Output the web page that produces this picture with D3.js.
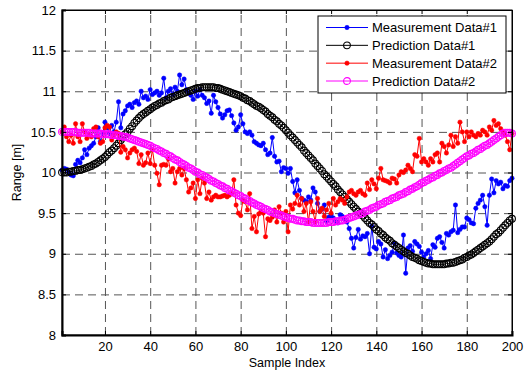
<!DOCTYPE html>
<html>
<head>
<meta charset="utf-8">
<script src="https://cdn.jsdelivr.net/npm/d3@7"></script>
<style>
  body { margin: 0; background: #fff; }
  text { font-family: "Liberation Sans", Arial, sans-serif; fill: #000; }
  .grid line { stroke: #555; stroke-dasharray: 8,5; }
  .grid .domain { display: none; }
</style>
</head>
<body>
<svg id="chart"></svg>
<script>
const W = 528, H = 373;
const margin = {top: 10, right: 16, bottom: 38, left: 62};
const width = W - margin.left - margin.right;
const height = H - margin.top - margin.bottom;

const xTicks = [20, 40, 60, 80, 100, 120, 140, 160, 180, 200];
const yTicks = [8, 8.5, 9, 9.5, 10, 10.5, 11, 11.5, 12];
const seriesNames = ["Measurement Data#1", "Prediction Data#1", "Measurement Data#2", "Prediction Data#2"];

// measurement #1 (blue), index 1..200
const meas1 = [
  10.03, 10.05, 10.04, 10.00, 9.97, 9.96, 10.10, 10.15, 10.12, 10.18,
  10.28, 10.22, 10.30, 10.33, 10.36, 10.44, 10.55, 10.38, 10.48, 10.62,
  10.55, 10.48, 10.58, 10.50, 10.62, 10.87, 10.55, 10.72, 10.76, 10.82,
  10.84, 10.80, 10.86, 10.88, 10.84, 11.00, 10.92, 10.94, 10.90, 11.02,
  10.96, 10.98, 11.00, 10.95, 10.98, 11.16, 10.92, 11.00, 11.03, 10.96,
  11.05, 11.00, 11.20, 11.08, 11.15, 11.02, 10.98, 10.95, 10.90, 11.00,
  10.94, 11.02, 10.95, 10.92, 10.85, 10.88, 10.73, 10.95, 10.87, 10.80,
  10.72, 10.67, 10.71, 10.76, 10.77, 10.70, 10.61, 10.52, 10.56, 10.71,
  10.60, 10.50, 10.48, 10.50, 10.46, 10.38, 10.36, 10.34, 10.33, 10.36,
  10.28, 10.22, 10.24, 10.43, 10.20, 10.13, 10.14, 10.01, 10.06, 10.05,
  9.99, 10.05, 9.89, 9.75, 9.91, 9.78, 9.68, 9.66, 9.64, 9.70,
  9.66, 9.81, 9.76, 9.62, 9.52, 9.55, 9.60, 9.40, 9.45, 9.48,
  9.44, 9.40, 9.38, 9.48, 9.46, 9.42, 9.39, 9.31, 9.19, 9.07,
  9.20, 9.30, 9.18, 9.22, 9.21, 9.25, 9.00, 9.34, 9.08, 9.06,
  9.15, 9.12, 8.96, 9.05, 8.94, 8.98, 9.02, 9.13, 9.01, 8.98,
  8.96, 9.23, 8.76, 9.07, 9.10, 9.03, 9.15, 9.12, 9.09, 9.02,
  8.96, 9.00, 9.04, 8.94, 9.11, 9.08, 9.19, 9.21, 9.14, 9.07,
  9.25, 9.23, 9.27, 9.29, 9.60, 9.26, 9.30, 9.33, 9.33, 9.44,
  9.42, 9.38, 9.37, 9.56, 9.62, 9.66, 9.72, 9.58, 9.35, 9.72,
  9.92, 9.75, 9.90, 9.86, 9.88, 9.80, 9.84, 9.83, 9.90, 9.93
];

// prediction #1 (black circles)
const pred1 = [
  10.00, 10.00, 10.00, 10.01, 10.01, 10.02, 10.02, 10.03, 10.03, 10.04,
  10.05, 10.06, 10.07, 10.08, 10.10, 10.11, 10.13, 10.15, 10.17, 10.19,
  10.22, 10.25, 10.27, 10.30, 10.33, 10.36, 10.40, 10.43, 10.47, 10.50,
  10.54, 10.57, 10.61, 10.64, 10.67, 10.70, 10.72, 10.74, 10.76, 10.78,
  10.80, 10.82, 10.83, 10.85, 10.86, 10.88, 10.89, 10.90, 10.92, 10.93,
  10.94, 10.95, 10.96, 10.97, 10.98, 10.99, 11.00, 11.01, 11.02, 11.03,
  11.04, 11.04, 11.05, 11.05, 11.05, 11.05, 11.05, 11.05, 11.04, 11.04,
  11.03, 11.02, 11.01, 11.00, 10.99, 10.98, 10.97, 10.96, 10.95, 10.94,
  10.92, 10.91, 10.89, 10.88, 10.86, 10.84, 10.82, 10.81, 10.79, 10.77,
  10.75, 10.72, 10.70, 10.68, 10.65, 10.63, 10.60, 10.58, 10.55, 10.52,
  10.49, 10.46, 10.43, 10.40, 10.37, 10.34, 10.31, 10.27, 10.24, 10.21,
  10.18, 10.15, 10.11, 10.08, 10.05, 10.02, 9.98, 9.95, 9.92, 9.89,
  9.86, 9.83, 9.79, 9.76, 9.73, 9.70, 9.67, 9.64, 9.61, 9.58,
  9.55, 9.52, 9.50, 9.47, 9.44, 9.41, 9.38, 9.36, 9.33, 9.30,
  9.28, 9.25, 9.23, 9.20, 9.18, 9.16, 9.13, 9.11, 9.09, 9.07,
  9.05, 9.03, 9.01, 9.00, 8.98, 8.96, 8.95, 8.94, 8.92, 8.91,
  8.90, 8.89, 8.88, 8.88, 8.87, 8.87, 8.87, 8.87, 8.87, 8.87,
  8.88, 8.88, 8.89, 8.89, 8.90, 8.91, 8.92, 8.93, 8.95, 8.96,
  8.98, 8.99, 9.01, 9.03, 9.05, 9.07, 9.09, 9.11, 9.13, 9.15,
  9.18, 9.21, 9.24, 9.26, 9.29, 9.32, 9.35, 9.38, 9.41, 9.43
];

// measurement #2 (red)
const meas2 = [
  10.50, 10.56, 10.44, 10.38, 10.46, 10.36, 10.60, 10.44, 10.38, 10.60,
  10.50, 10.42, 10.47, 10.44, 10.54, 10.56, 10.44, 10.36, 10.38, 10.55,
  10.58, 10.56, 10.40, 10.46, 10.50, 10.48, 10.25, 10.32, 10.28, 10.18,
  10.24, 10.28, 10.30, 10.26, 10.11, 10.22, 10.09, 10.12, 10.24, 10.11,
  10.28, 10.09, 9.99, 9.85, 10.09, 10.10, 10.09, 10.17, 10.01, 10.05,
  9.87, 10.01, 10.05, 9.97, 10.05, 9.91, 9.76, 9.81, 9.87, 9.68,
  9.91, 9.74, 9.93, 9.87, 9.68, 9.76, 9.66, 9.70, 9.72, 9.70,
  9.70, 9.71, 9.72, 9.70, 9.72, 9.74, 9.91, 9.60, 9.50, 9.47,
  9.66, 9.64, 9.54, 9.74, 9.31, 9.46, 9.27, 9.49, 9.52, 9.50,
  9.21, 9.43, 9.41, 9.45, 9.54, 9.39, 9.58, 9.50, 9.39, 9.52,
  9.27, 9.60, 9.55, 9.62, 9.72, 9.60, 9.68, 9.52, 9.62, 9.39,
  9.64, 9.52, 9.39, 9.68, 9.52, 9.56, 9.46, 9.54, 9.62, 9.50,
  9.68, 9.60, 9.64, 9.68, 9.66, 9.62, 9.70, 9.76, 9.78, 9.74,
  9.72, 9.76, 9.78, 9.74, 9.72, 9.87, 9.79, 9.91, 9.86, 9.80,
  9.93, 10.05, 9.91, 9.90, 9.89, 9.87, 9.93, 9.92, 9.87, 9.97,
  10.01, 10.00, 10.03, 10.09, 10.05, 10.01, 10.22, 10.20, 10.42, 10.13,
  10.17, 10.13, 10.09, 10.17, 10.13, 10.22, 10.24, 10.13, 10.36, 10.32,
  10.24, 10.34, 10.46, 10.32, 10.44, 10.36, 10.62, 10.50, 10.38, 10.50,
  10.44, 10.50, 10.46, 10.44, 10.48, 10.46, 10.52, 10.50, 10.46, 10.56,
  10.52, 10.64, 10.58, 10.60, 10.54, 10.50, 10.46, 10.38, 10.28, 10.48
];

// prediction #2 (magenta circles)
const pred2 = [
  10.50, 10.50, 10.50, 10.50, 10.50, 10.50, 10.50, 10.49, 10.49, 10.49,
  10.49, 10.49, 10.49, 10.48, 10.48, 10.48, 10.48, 10.48, 10.47, 10.47,
  10.47, 10.47, 10.46, 10.46, 10.46, 10.45, 10.45, 10.44, 10.44, 10.43,
  10.42, 10.41, 10.40, 10.39, 10.38, 10.37, 10.36, 10.35, 10.34, 10.33,
  10.31, 10.30, 10.29, 10.27, 10.26, 10.24, 10.23, 10.21, 10.20, 10.18,
  10.16, 10.15, 10.13, 10.11, 10.10, 10.08, 10.06, 10.05, 10.03, 10.01,
  10.00, 9.98, 9.97, 9.95, 9.94, 9.92, 9.90, 9.89, 9.87, 9.86,
  9.84, 9.83, 9.81, 9.80, 9.78, 9.77, 9.75, 9.74, 9.72, 9.71,
  9.69, 9.68, 9.66, 9.65, 9.63, 9.62, 9.60, 9.59, 9.58, 9.56,
  9.55, 9.54, 9.52, 9.51, 9.50, 9.49, 9.48, 9.47, 9.46, 9.45,
  9.44, 9.43, 9.43, 9.42, 9.41, 9.41, 9.40, 9.40, 9.39, 9.39,
  9.39, 9.38, 9.38, 9.38, 9.38, 9.38, 9.38, 9.38, 9.39, 9.39,
  9.39, 9.40, 9.40, 9.41, 9.41, 9.42, 9.43, 9.44, 9.45, 9.46,
  9.47, 9.48, 9.49, 9.50, 9.52, 9.53, 9.54, 9.56, 9.57, 9.58,
  9.60, 9.61, 9.62, 9.64, 9.65, 9.66, 9.68, 9.69, 9.70, 9.72,
  9.73, 9.74, 9.76, 9.77, 9.79, 9.80, 9.82, 9.83, 9.85, 9.87,
  9.88, 9.90, 9.91, 9.93, 9.94, 9.96, 9.97, 9.99, 10.00, 10.02,
  10.03, 10.05, 10.06, 10.08, 10.10, 10.12, 10.14, 10.16, 10.18, 10.20,
  10.21, 10.23, 10.24, 10.26, 10.28, 10.29, 10.31, 10.33, 10.34, 10.36,
  10.38, 10.40, 10.42, 10.44, 10.46, 10.48, 10.49, 10.49, 10.49, 10.48
];

const series = [
  {name: seriesNames[0], values: meas1, color: "#0000ff", marker: "dot"},
  {name: seriesNames[1], values: pred1, color: "#000000", marker: "circle"},
  {name: seriesNames[2], values: meas2, color: "#ff0000", marker: "dot"},
  {name: seriesNames[3], values: pred2, color: "#ff00ff", marker: "circle"}
];

const svg = d3.select("#chart").attr("width", W).attr("height", H);
svg.append("rect").attr("width", W).attr("height", H).attr("fill", "#fff");

const g = svg.append("g").attr("transform", "translate(" + margin.left + "," + margin.top + ")");

const x = d3.scaleLinear().domain([1, 200]).range([0, width]);
const y = d3.scaleLinear().domain([8, 12]).range([height, 0]);

// dashed grid
g.append("g").attr("class", "grid")
  .attr("transform", "translate(0," + height + ")")
  .call(d3.axisBottom(x).tickValues(xTicks.filter(d => d < 200)).tickSize(-height).tickFormat(""));
g.append("g").attr("class", "grid")
  .call(d3.axisLeft(y).tickValues(yTicks.filter(d => d > 8 && d < 12)).tickSize(-width).tickFormat(""));

// series
const line = d3.line().x((d, i) => x(i + 1)).y(d => y(d));
series.forEach(s => {
  const sg = g.append("g");
  sg.append("path")
    .datum(s.values)
    .attr("fill", "none")
    .attr("stroke", s.color)
    .attr("stroke-width", 1)
    .attr("d", line);
  sg.selectAll("circle")
    .data(s.values)
    .enter().append("circle")
    .attr("cx", (d, i) => x(i + 1))
    .attr("cy", d => y(d))
    .attr("r", s.marker === "dot" ? 2.2 : 3.4)
    .attr("fill", s.marker === "dot" ? s.color : "none")
    .attr("stroke", s.color)
    .attr("stroke-width", s.marker === "dot" ? 0.5 : 1.1);
});

// axes with inward ticks
const xAxis = g.append("g")
  .attr("transform", "translate(0," + height + ")")
  .call(d3.axisBottom(x).tickValues(xTicks).tickSize(-4).tickPadding(7).tickFormat(d => d));
const yAxis = g.append("g")
  .call(d3.axisLeft(y).tickValues(yTicks).tickSize(-4).tickPadding(6).tickFormat(d => d));
g.append("g")
  .call(d3.axisTop(x).tickValues(xTicks).tickSize(-4).tickFormat(""));
g.append("g")
  .attr("transform", "translate(" + width + ",0)")
  .call(d3.axisRight(y).tickValues(yTicks).tickSize(-4).tickFormat(""));

g.selectAll(".domain").filter(function () { return !this.parentNode.classList.contains("grid"); })
  .attr("stroke", "#000");
[xAxis, yAxis].forEach(a => {
  a.selectAll("text").style("font-size", "13px").attr("fill", "#000");
  a.select(".domain").attr("stroke-width", 2);
});

// frame
g.append("rect")
  .attr("width", width).attr("height", height)
  .attr("fill", "none").attr("stroke", "#000").attr("stroke-width", 1);

// axis titles
svg.append("text")
  .attr("x", margin.left + width / 2)
  .attr("y", H - 6)
  .attr("text-anchor", "middle")
  .style("font-size", "12.5px")
  .text("Sample Index");
svg.append("text")
  .attr("transform", "translate(21," + (margin.top + height / 2) + ") rotate(-90)")
  .attr("text-anchor", "middle")
  .style("font-size", "12.5px")
  .text("Range [m]");

// legend
const legend = svg.append("g").attr("transform", "translate(318,16)");
legend.append("rect")
  .attr("width", 188).attr("height", 77)
  .attr("fill", "#fff").attr("stroke", "#000").attr("stroke-width", 1);
const rowY = d3.scalePoint().domain(seriesNames).range([11.5, 65]);
series.forEach(s => {
  const r = legend.append("g").attr("transform", "translate(0," + rowY(s.name) + ")");
  r.append("line").attr("x1", 8).attr("x2", 50).attr("stroke", s.color).attr("stroke-width", 1);
  r.append("circle").attr("cx", 29).attr("cy", 0)
    .attr("r", s.marker === "dot" ? 2.2 : 3.4)
    .attr("fill", s.marker === "dot" ? s.color : "none")
    .attr("stroke", s.color).attr("stroke-width", s.marker === "dot" ? 0.5 : 1.1);
  r.append("text").attr("x", 54).attr("y", 4.7)
    .style("font-size", "13px")
    .text(s.name);
});
</script>
</body>
</html>
